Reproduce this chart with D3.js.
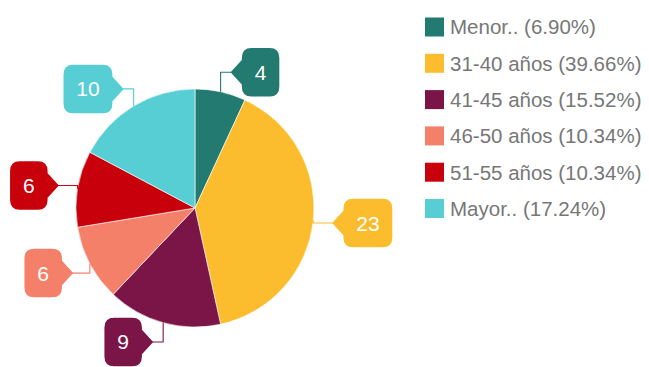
<!DOCTYPE html>
<html>
<head>
<meta charset="utf-8">
<script src="https://cdn.jsdelivr.net/npm/d3@7"></script>
<style>
  html, body { margin: 0; padding: 0; background: #ffffff; }
  svg { display: block; }
  text { font-family: "Liberation Sans", Arial, sans-serif; }
</style>
</head>
<body>
<svg id="chart" width="649" height="367"></svg>
<script>
// Age groups and respondent counts
const categories = ["Menor..", "31-40 años", "41-45 años", "46-50 años", "51-55 años", "Mayor.."];
const counts = [4, 23, 9, 6, 6, 10];
const colors = ["#237a70", "#fbbd2e", "#7b1447", "#f5806a", "#c8000b", "#57ced3"];

const W = 649, H = 367;
const cx = 195, cy = 208, R = 119;
const svg = d3.select("#chart");

const total = d3.sum(counts);
const data = categories.map((c, i) => ({ name: c, value: counts[i], color: colors[i] }));

const pie = d3.pie().value(d => d.value).sort(null);
const arcs = pie(data);
const arc = d3.arc().innerRadius(0).outerRadius(R);

const g = svg.append("g").attr("transform", `translate(${cx},${cy})`);

g.selectAll("path.slice")
  .data(arcs)
  .join("path")
  .attr("class", "slice")
  .attr("d", arc)
  .attr("fill", d => d.data.color)
  .attr("stroke", "#ffffff")
  .attr("stroke-width", 0.6);

// Polar helper: angle measured clockwise from 12 o'clock
const polar = (r, a) => [r * Math.sin(a), -r * Math.cos(a)];

// Callout labels
const labelR = 139, boxH = 47, pointer = 11, baseHalf = 12, corner = 9;
const fmt = d3.format("d");

g.selectAll("g.callout")
  .data(arcs)
  .join("g")
  .attr("class", "callout")
  .each(function(d) {
    const sel = d3.select(this);
    const mid = (d.startAngle + d.endAngle) / 2;
    const edge = polar(R, mid);
    const far = polar(labelR, mid);
    const side = far[0] >= 0 ? 1 : -1;
    const tipX = side * Math.max(Math.abs(far[0]), Math.abs(edge[0]) + 11);
    const tipY = far[1];

    // leader line: out from the rim, then across to the pointer
    sel.append("path")
      .attr("d", `M${edge[0]},${edge[1]} L${edge[0]},${tipY} L${tipX},${tipY}`)
      .attr("fill", "none")
      .attr("stroke", d.data.color)
      .attr("stroke-width", 1.1)
      .attr("stroke-linejoin", "round");

    const label = fmt(d.data.value);
    const textW = label.length * 11.7;
    const w = Math.max(36, textW + 24);
    const h2 = boxH / 2, p = pointer, rc = corner, b = baseHalf;
    // box shape with pointer on the side facing the pie
    const pts = [
      `M0,0`,
      `L${p},${-b}`,
      `L${p},${-(h2 - rc)}`,
      `Q${p},${-h2} ${p + rc},${-h2}`,
      `L${p + w - rc},${-h2}`,
      `Q${p + w},${-h2} ${p + w},${-h2 + rc}`,
      `L${p + w},${h2 - rc}`,
      `Q${p + w},${h2} ${p + w - rc},${h2}`,
      `L${p + rc},${h2}`,
      `Q${p},${h2} ${p},${h2 - rc}`,
      `L${p},${b}`,
      `Z`
    ].join(" ");

    const box = sel.append("g")
      .attr("transform", `translate(${tipX},${tipY}) scale(${side},1)`);
    box.append("path")
      .attr("d", pts)
      .attr("fill", d.data.color)
      .attr("stroke", d.data.color)
      .attr("stroke-width", 1.5)
      .attr("stroke-linejoin", "round");

    sel.append("text")
      .attr("x", tipX + side * (p + w / 2))
      .attr("y", tipY)
      .attr("dy", "0.36em")
      .attr("text-anchor", "middle")
      .attr("fill", "#ffffff")
      .attr("font-size", 21)
      .text(label);
  });

// Legend
const legendX = 425, legendY0 = 27, legendStep = 36.3, sw = 19;
const pctFmt = d3.format(".2f");
const legend = svg.append("g").attr("class", "legend");
const items = legend.selectAll("g")
  .data(data)
  .join("g")
  .attr("transform", (d, i) => `translate(${legendX},${legendY0 + i * legendStep})`);
items.append("rect")
  .attr("x", 0).attr("y", -sw / 2)
  .attr("width", sw).attr("height", sw)
  .attr("fill", d => d.color);
items.append("text")
  .attr("x", sw + 6)
  .attr("dy", "0.36em")
  .attr("font-size", 20.5)
  .attr("fill", "#777777")
  .text(d => `${d.name} (${pctFmt(d.value / total * 100)}%)`);
</script>
</body>
</html>
